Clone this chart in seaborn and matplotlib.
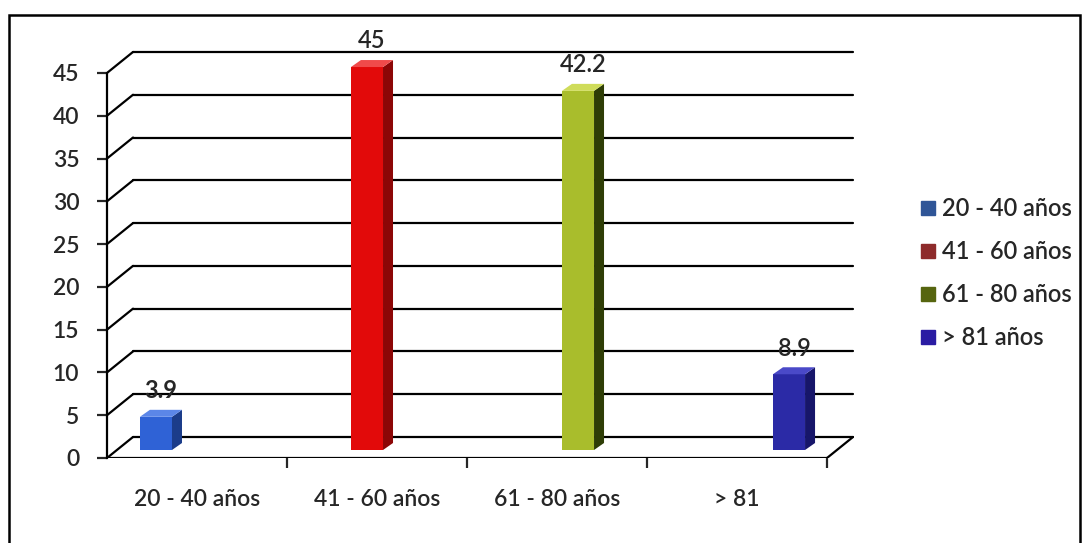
import numpy as np
import pandas as pd
import matplotlib.pyplot as plt
import seaborn as sns
from matplotlib.patches import Polygon, Rectangle
from matplotlib.lines import Line2D

categorias = ['20 - 40 años', '41 - 60 años', '61 - 80 años', '> 81']
valores = [3.9, 45, 42.2, 8.9]
etiquetas_leyenda = ['20 - 40 años', '41 - 60 años', '61 - 80 años', '> 81 años']
y_ticks = [0, 5, 10, 15, 20, 25, 30, 35, 40, 45]

color_frente = ['#2f62d6', '#e20a0a', '#a9bd2c', '#2b2aa6']
color_lado = ['#1b3c8a', '#8c0606', '#2e3d06', '#17166a']
color_arriba = ['#5b86e8', '#f04a4a', '#cfdc5a', '#4a49c8']
color_leyenda = ['#2f5597', '#8e2b2b', '#56650f', '#2a1ca3']

datos = pd.DataFrame({'grupo': categorias, 'valor': valores})

sns.set_style('white')
plt.rcParams['font.family'] = ['Lato', 'DejaVu Sans']

fig = plt.figure(figsize=(10.86, 5.43), dpi=100)
rect = [107 / 1086, 1 - 458 / 543, (854 - 107) / 1086, (458 - 47.3) / 543]

# front axis + back wall grid
ax = fig.add_axes(rect)
ax.set_xlim(-0.5, 3.65)
ax.set_ylim(0, 48)
dx, dy = 26 / 180, 21 / 8.556
for v in y_ticks:
    ax.plot([-0.5, -0.5 + dx], [v, v + dy], color='black', lw=1.6)
    ax.plot([-0.5 + dx, 3.5 + dx], [v + dy, v + dy], color='black', lw=1.6)
ax.plot([3.5, 3.5 + dx], [0, dy], color='black', lw=1.6)
ax.plot([-0.5, 3.5], [0, 0], color='black', lw=1.6)
for s in ['top', 'right', 'bottom']:
    ax.spines[s].set_visible(False)
ax.spines['left'].set_bounds(0, 45)
ax.spines['left'].set_linewidth(1.6)
ax.spines['left'].set_color('black')
ax.set_yticks(y_ticks)
ax.tick_params(axis='y', left=True, length=7, width=1.6, pad=13, labelsize=16.5)
ax.set_xticks(range(len(categorias)))
ax.set_xticklabels(categorias)
ax.set_xticks([0.5, 1.5, 2.5, 3.5], minor=True)
ax.tick_params(axis='x', which='major', length=0, pad=22, labelsize=16.5)
ax.tick_params(axis='x', which='minor', bottom=True, length=7, width=1.6)
ax.set_xlabel('')
ax.set_ylabel('')
for t in ax.get_yticklabels() + ax.get_xticklabels():
    t.set_fontweight('semibold')

# bars
axb = fig.add_axes(rect)
axb.patch.set_alpha(0)
sns.barplot(data=datos, x='grupo', y='valor', hue='grupo', palette=color_frente,
            saturation=1, width=0.152, legend=False, ax=axb)
axb.set_xlim(-0.232, 3.308)
axb.set_ylim(-0.94, 47.32)
axb.axis('off')
d, e = 10 / 211, 7 / 8.51
for i, p in enumerate(axb.patches):
    x0 = p.get_x()
    x1 = x0 + p.get_width()
    h = p.get_height()
    p.set_edgecolor('none')
    axb.add_patch(Polygon([[x1, 0], [x1 + d, e], [x1 + d, h + e], [x1, h]],
                          closed=True, facecolor=color_lado[i], edgecolor='none'))
    axb.add_patch(Polygon([[x0, h], [x0 + d, h + e], [x1 + d, h + e], [x1, h]],
                          closed=True, facecolor=color_arriba[i], edgecolor='none'))
    peso = 'bold' if i == 0 else 'semibold'
    axb.text((x0 + x1 + d) / 2, h + e + 0.9, f'{valores[i]:g}', ha='center', va='bottom',
             fontsize=17, fontweight=peso)

# legend
manejadores = [Line2D([], [], marker='s', linestyle='none', markersize=10,
                      markerfacecolor=c, markeredgecolor=c) for c in color_leyenda]
leg = fig.legend(manejadores, etiquetas_leyenda, loc='upper left', bbox_to_anchor=(908 / 1086, 1 - 188 / 543),
                 frameon=False, fontsize=17, labelspacing=0.84, handletextpad=0.15, handlelength=0.9,
                 borderaxespad=0)
for t in leg.get_texts():
    t.set_fontweight('semibold')

# outer border
fig.patches.append(Rectangle((9 / 1086, -0.05), (1080 - 9) / 1086, 1.05 - 15 / 543,
                             transform=fig.transFigure, fill=False, edgecolor='black', lw=1.8))

fig.savefig('out.png', dpi=100)
